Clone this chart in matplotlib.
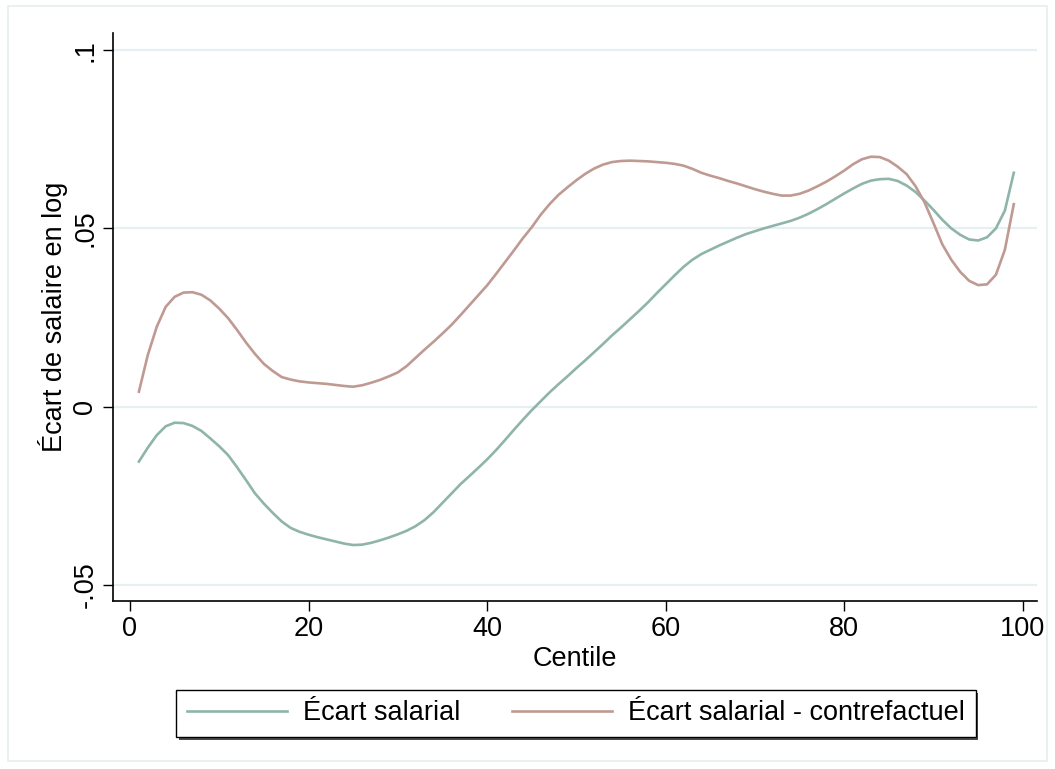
import matplotlib
matplotlib.use("Agg")
import matplotlib.pyplot as plt
from matplotlib.patches import Rectangle

# Centiles 1..99
centiles = list(range(1, 100))

ecart = [
    -0.0154, -0.0115, -0.0080, -0.0055, -0.0045, -0.0046, -0.0054, -0.0068, -0.0089, -0.0111,
    -0.0136, -0.0170, -0.0206, -0.0243, -0.0272, -0.0298, -0.0322, -0.0340, -0.0351, -0.0359,
    -0.0366, -0.0372, -0.0378, -0.0384, -0.0388, -0.0387, -0.0382, -0.0375, -0.0367, -0.0358,
    -0.0348, -0.0335, -0.0318, -0.0296, -0.0270, -0.0244, -0.0218, -0.0195, -0.0172, -0.0148,
    -0.0122, -0.0094, -0.0065, -0.0037, -0.0010, 0.0015, 0.0040, 0.0063, 0.0085, 0.0108,
    0.0130, 0.0153, 0.0176, 0.0200, 0.0222, 0.0245, 0.0268, 0.0292, 0.0318, 0.0343,
    0.0368, 0.0392, 0.0412, 0.0428, 0.0440, 0.0452, 0.0463, 0.0474, 0.0484, 0.0492,
    0.0500, 0.0507, 0.0514, 0.0521, 0.0530, 0.0541, 0.0554, 0.0568, 0.0583, 0.0598,
    0.0612, 0.0625, 0.0634, 0.0638, 0.0639, 0.0633, 0.0620, 0.0602, 0.0578, 0.0552,
    0.0524, 0.0500, 0.0482, 0.0469, 0.0466, 0.0475, 0.0500, 0.0550, 0.0656,
]

ecart_cf = [
    0.0042, 0.0145, 0.0224, 0.0280, 0.0308, 0.0320, 0.0321, 0.0314, 0.0298, 0.0275,
    0.0248, 0.0215, 0.0180, 0.0148, 0.0120, 0.0100, 0.0083, 0.0076, 0.0071, 0.0068,
    0.0066, 0.0064, 0.0061, 0.0058, 0.0056, 0.0060, 0.0067, 0.0075, 0.0085, 0.0096,
    0.0114, 0.0137, 0.0160, 0.0182, 0.0205, 0.0229, 0.0256, 0.0284, 0.0312, 0.0340,
    0.0372, 0.0405, 0.0438, 0.0472, 0.0503, 0.0538, 0.0568, 0.0594, 0.0615, 0.0635,
    0.0653, 0.0668, 0.0679, 0.0686, 0.0689, 0.0690, 0.0689, 0.0688, 0.0686, 0.0684,
    0.0681, 0.0676, 0.0667, 0.0656, 0.0648, 0.0641, 0.0633, 0.0626, 0.0618, 0.0610,
    0.0603, 0.0597, 0.0592, 0.0592, 0.0597, 0.0606, 0.0618, 0.0631, 0.0646, 0.0662,
    0.0680, 0.0694, 0.0701, 0.0700, 0.0690, 0.0673, 0.0652, 0.0618, 0.0573, 0.0515,
    0.0455, 0.0412, 0.0378, 0.0353, 0.0341, 0.0343, 0.0370, 0.0440, 0.0568,
]

xticks = [0, 20, 40, 60, 80, 100]
yticks = [-0.05, 0, 0.05, 0.1]
ytick_labels = ["-.05", "0", ".05", ".1"]

plt.rcParams['font.family'] = ['Liberation Sans', 'DejaVu Sans']
FS = 19.5

fig = plt.figure(figsize=(10.55, 7.69), dpi=100)
fig.patch.set_facecolor('white')
fig.add_artist(Rectangle((8 / 1055, 1 - 761 / 769), 1039 / 1055, 755 / 769,
                         transform=fig.transFigure, fill=False,
                         edgecolor='#e6edf0', linewidth=1.2))

ax = fig.add_axes([113 / 1055, 1 - 601 / 769, 924 / 1055, 568 / 769])
for y in yticks:
    ax.axhline(y, color='#e6eff2', linewidth=1.6, zorder=0)

ax.plot(centiles, ecart, color='#8fb4a9', linewidth=1.9, label='Écart salarial')
ax.plot(centiles, ecart_cf, color='#bf9a92', linewidth=1.9,
        label='Écart salarial - contrefactuel')

ax.set_xlim(-1.9, 101.6)
ax.set_ylim(-0.0545, 0.1048)
ax.spines['top'].set_visible(False)
ax.spines['right'].set_visible(False)
for s in ('left', 'bottom'):
    ax.spines[s].set_linewidth(1.2)

ax.set_xticks(xticks)
ax.set_xticklabels([str(t) for t in xticks], fontsize=FS)
ax.set_yticks(yticks)
ax.set_yticklabels(ytick_labels, fontsize=FS, rotation=90, va='center')
ax.tick_params(axis='both', direction='out', length=7.5, width=1.0, pad=3)

ax.set_xlabel('Centile', fontsize=FS, labelpad=3)
ax.set_ylabel('Écart de salaire en log', fontsize=FS, labelpad=3)

leg = fig.legend(loc='center', bbox_to_anchor=(576 / 1055, 1 - 713.5 / 769),
                 ncol=2, fontsize=FS, frameon=True, fancybox=False,
                 shadow={'color': '0.3', 'alpha': 1, 'linewidth': 0},
                 handlelength=3.7, handletextpad=0.6, columnspacing=1.9,
                 borderpad=0.38, borderaxespad=0)
leg.get_frame().set_edgecolor('black')
leg.get_frame().set_linewidth(1.0)

fig.savefig('out.png', dpi=100, facecolor='white')
